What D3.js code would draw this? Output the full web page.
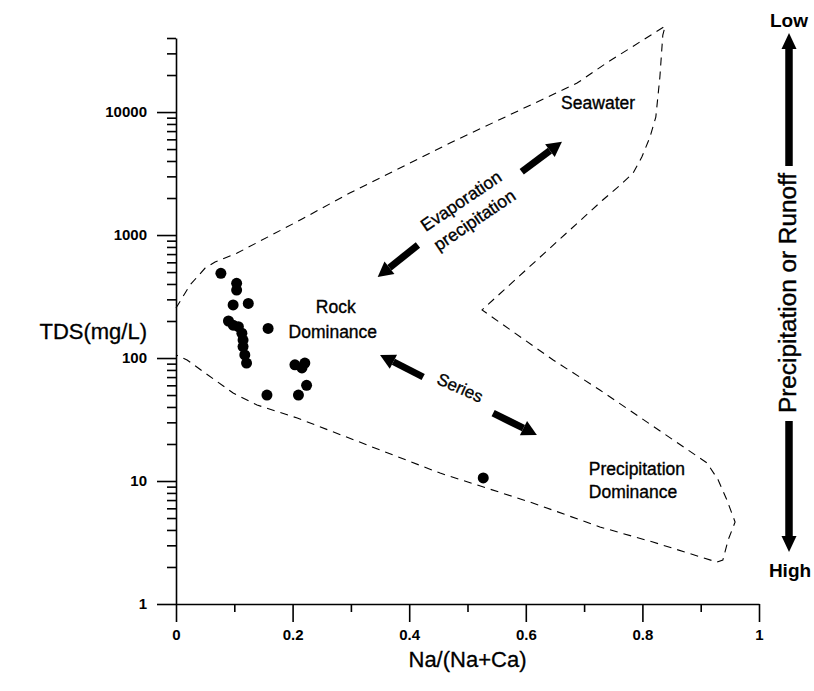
<!DOCTYPE html>
<html>
<head>
<meta charset="utf-8">
<title>Gibbs diagram</title>
<script src="https://cdn.jsdelivr.net/npm/d3@7"></script>
<style>
body { margin: 0; background: #fff; }
svg { display: block; font-family: Arial, "Liberation Sans", sans-serif; }
</style>
</head>
<body>
<svg id="chart" width="814" height="691"></svg>
<script>
// axis ticks
const xTicks = [0, 0.2, 0.4, 0.6, 0.8, 1];
const xMinor = [0.1, 0.3, 0.5, 0.7, 0.9];
const tdsTicks = [1, 10, 100, 1000, 10000];

// samples: Na/(Na+Ca) and TDS (mg/L)
const sampleRatio = [0.077, 0.104, 0.104, 0.098, 0.124, 0.090, 0.098, 0.107, 0.113, 0.115, 0.115,
  0.118, 0.121, 0.158, 0.204, 0.221, 0.216, 0.224, 0.210, 0.156, 0.527];
const sampleTDS = [488, 405, 357, 270, 278, 200, 185, 180, 159, 140, 124,
  106, 91, 174, 88, 91, 83, 60, 50, 50, 10.6];

// Gibbs boundary (dashed envelope)
const envelopeRatio = [0, 0.024, 0.050, 0.067, 0.105, 0.213, 0.298, 0.470, 0.688, 0.741, 0.839,
  0.835, 0.830, 0.823, 0.813, 0.799, 0.784, 0.762, 0.732, 0.525,
  0.647, 0.727, 0.911, 0.930, 0.945, 0.959, 0.947, 0.938,
  0.928, 0.818, 0.727, 0.612, 0.453, 0.208, 0.139, 0.098, 0.019, 0];
const envelopeTDS = [255, 392, 539, 603, 714, 1324, 2196, 5598, 17200, 25500, 50000,
  42300, 19270, 9100, 6260, 4306, 3192, 2551, 1926, 246,
  96.3, 55, 14.0, 10.2, 7.0, 4.64, 3.31, 2.28,
  2.19, 3.19, 4.23, 6.63, 11.6, 32.5, 41.5, 51.9, 96.3, 106];

// annotation arrows [ratio, TDS]
const arrowTail = [[0.593, 3270], [0.415, 829], [0.424, 70.1], [0.544, 35.7]];
const arrowTip = [[0.662, 5740], [0.346, 456], [0.350, 106], [0.619, 23.7]];

// text labels
const labelText = ["Seawater", "Rock", "Dominance", "Precipitation", "Dominance", "Evaporation", "precipitation", "Series"];
const labelRatio = [0.724, 0.274, 0.269, 0.708, 0.708, 0.489, 0.512, 0.487];
const labelTDS = [11800, 262, 163, 12.5, 8.1, 1890, 1324, 57];
const labelAnchor = ["middle", "middle", "middle", "start", "start", "middle", "middle", "middle"];
const labelAngle = [0, 0, 0, 0, 0, -34, -34, 24];
const labelSize = [17.5, 17.5, 17.5, 17.5, 17.5, 17.5, 17.5, 17];

const svg = d3.select("#chart");
const x = d3.scaleLinear().domain([0, 1]).range([176, 759]);
const y = d3.scaleLog().domain([1, 40000]).range([604, 38]);

let tdsMinor = [];
tdsTicks.forEach(function (d) {
  for (let k = 2; k <= 9; k++) if (d * k <= 40000) tdsMinor.push(d * k);
});

function styleAxis(g) {
  g.selectAll("path, line").attr("stroke", "#000").attr("stroke-width", 1.6);
  g.selectAll("text").attr("font-size", 15).attr("font-weight", "bold")
    .attr("font-family", "Arial, 'Liberation Sans', sans-serif").attr("fill", "#000");
}

// y axis
svg.append("g").attr("transform", "translate(176,0)")
  .call(d3.axisLeft(y).tickValues(tdsMinor).tickSize(9).tickFormat(""))
  .call(function (g) { g.select(".domain").remove(); styleAxis(g); });
svg.append("g").attr("transform", "translate(176,0)")
  .call(d3.axisLeft(y).tickValues(tdsTicks).tickSize(19).tickSizeOuter(0).tickPadding(10).tickFormat(d3.format("d")))
  .call(styleAxis);

// x axis
svg.append("g").attr("transform", "translate(0,604)")
  .call(d3.axisBottom(x).tickValues(xMinor).tickSize(8).tickFormat(""))
  .call(function (g) { g.select(".domain").remove(); styleAxis(g); });
svg.append("g").attr("transform", "translate(0,604)")
  .call(d3.axisBottom(x).tickValues(xTicks).tickSize(18).tickSizeOuter(0).tickPadding(7).tickFormat(d3.format("~g")))
  .call(styleAxis);

// axis titles
svg.append("text").attr("x", x(0.5)).attr("y", 667).attr("text-anchor", "middle")
  .attr("font-size", 22).attr("stroke", "#000").attr("stroke-width", 0.3).text("Na/(Na+Ca)");
svg.append("text").attr("x", 147).attr("y", 339).attr("text-anchor", "end")
  .attr("font-size", 22).attr("stroke", "#000").attr("stroke-width", 0.3).text("TDS(mg/L)");

// dashed envelope
const envelope = envelopeRatio.map(function (d, i) { return [d, envelopeTDS[i]]; });
svg.append("path")
  .attr("d", d3.line().x(function (d) { return x(d[0]); }).y(function (d) { return y(d[1]); })(envelope))
  .attr("fill", "none").attr("stroke", "#000").attr("stroke-width", 1.1)
  .attr("stroke-dasharray", "8,6");

// samples
svg.append("g").selectAll("circle")
  .data(sampleRatio)
  .enter().append("circle")
  .attr("cx", function (d) { return x(d); })
  .attr("cy", function (d, i) { return y(sampleTDS[i]); })
  .attr("r", 5.5)
  .attr("fill", "#000");

// thick arrow with filled head
function arrow(x1, y1, x2, y2, w, headLen, headW) {
  const a = Math.atan2(y2 - y1, x2 - x1);
  const bx = x2 - headLen * Math.cos(a), by = y2 - headLen * Math.sin(a);
  svg.append("line").attr("x1", x1).attr("y1", y1).attr("x2", bx).attr("y2", by)
    .attr("stroke", "#000").attr("stroke-width", w);
  const px = headW * Math.sin(a), py = -headW * Math.cos(a);
  svg.append("path")
    .attr("d", "M" + x2 + "," + y2 + "L" + (bx + px) + "," + (by + py) + "L" + (bx - px) + "," + (by - py) + "Z")
    .attr("fill", "#000");
}
arrowTail.forEach(function (t, i) {
  arrow(x(t[0]), y(t[1]), x(arrowTip[i][0]), y(arrowTip[i][1]), 7, 15, 8);
});

// labels
labelText.forEach(function (t, i) {
  const lx = x(labelRatio[i]), ly = y(labelTDS[i]);
  svg.append("text")
    .attr("transform", "translate(" + lx + "," + ly + ") rotate(" + labelAngle[i] + ")")
    .attr("text-anchor", labelAnchor[i])
    .attr("dominant-baseline", "central")
    .attr("font-size", labelSize[i])
    .attr("stroke", "#000").attr("stroke-width", 0.35)
    .text(t);
});

// right side: precipitation / runoff indicator
const rx = 789;
svg.append("text").attr("x", rx).attr("y", 27).attr("text-anchor", "middle")
  .attr("font-size", 19).attr("font-weight", "bold").text("Low");
svg.append("text").attr("x", rx + 1).attr("y", 577).attr("text-anchor", "middle")
  .attr("font-size", 19).attr("font-weight", "bold").text("High");
arrow(rx, 166, rx, 33, 7.5, 16, 7.5);
arrow(rx, 421, rx, 552, 7.5, 16, 7.5);
svg.append("text")
  .attr("transform", "translate(796,293) rotate(-90)")
  .attr("text-anchor", "middle")
  .attr("font-size", 23).attr("textLength", 240).attr("lengthAdjust", "spacingAndGlyphs")
  .attr("stroke", "#000").attr("stroke-width", 0.4)
  .text("Precipitation or Runoff");
</script>
</body>
</html>
